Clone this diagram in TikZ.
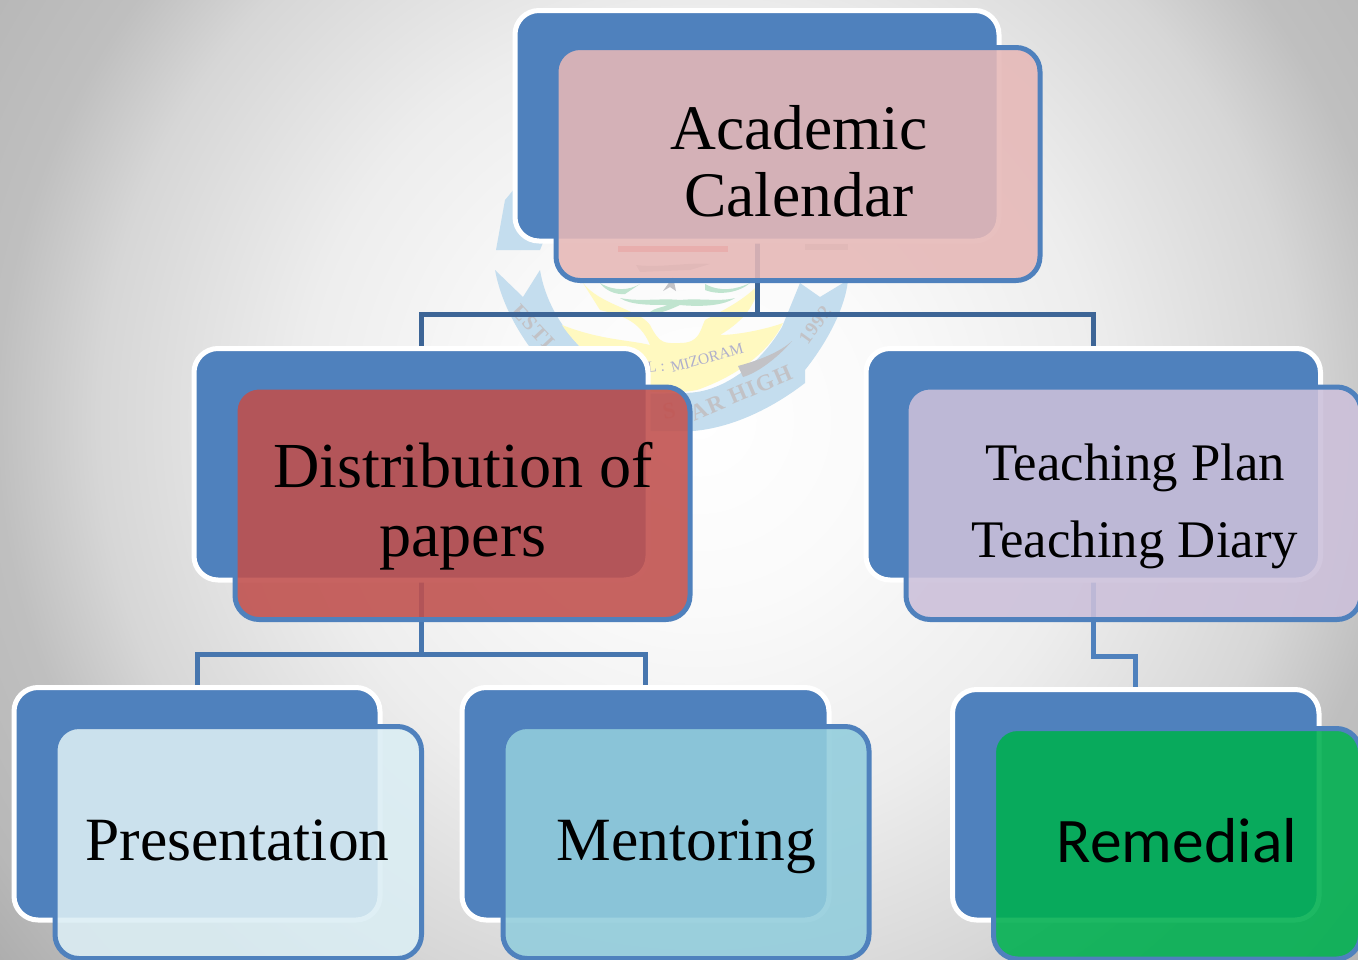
\documentclass[tikz,border=0pt]{standalone}
\usepackage{fontspec}
\setmainfont{Liberation Serif}
\newfontfamily\carlitofont{Carlito}
\newfontfamily\wmfont[LetterSpace=6]{Liberation Serif}
\definecolor{boxblue}{HTML}{4F81BD}
\definecolor{busa}{HTML}{3D6596}
\definecolor{busb}{HTML}{4776AE}
\definecolor{ribbon}{HTML}{C4DDEE}
\definecolor{paleyellow}{HTML}{FFF9C0}
\definecolor{paleleaf}{HTML}{C0E4CF}
\definecolor{markgray}{HTML}{C2C2C6}
\definecolor{fpink}{HTML}{E6B8B7}
\definecolor{fred}{HTML}{C0504D}
\definecolor{flav}{HTML}{CCC0DA}
\definecolor{fice}{HTML}{DBEEF4}
\definecolor{faqua}{HTML}{92CDDC}
\definecolor{fgreen}{HTML}{00B050}
\pgfdeclareradialshading{pagebg}{\pgfpoint{0bp}{0bp}}{%
  color(0bp)=(white);
  color(190bp)=(white!98!black);
  color(400bp)=(white!93!black);
  color(600bp)=(white!84!black);
  color(700bp)=(white!75!black);
  color(820bp)=(white!72!black);
  color(900bp)=(white!67!black);
  color(1000bp)=(white!62!black)}
\pgfdeclarelayer{wmlayer}
\pgfdeclarelayer{connlayer}
\pgfsetlayers{wmlayer,connlayer,main}
\tikzset{
  backbox/.style={draw=white,fill=boxblue,line width=5pt,rounded corners=24pt,inner sep=0pt,outer sep=0pt},
  frontbox/.style={draw=boxblue,line width=5pt,rounded corners=24pt,fill opacity=.885,inner sep=0pt,outer sep=0pt},
  conn/.style={line width=5pt,line join=miter},
  boxlabel/.style={anchor=base,align=center,text=black,inner sep=0pt},
  wmark/.style={inner sep=0pt}
}
\begin{document}
\begin{tikzpicture}[x=1pt,y=-1pt]
\useasboundingbox (0,0) rectangle (1358,959);
\begin{pgfonlayer}{wmlayer}
\node[inner sep=0pt] (pagebackground) at (700,420) {\pgfuseshading{pagebg}};
\fill[ribbon] (495,270) -- (523,297) -- (540,270) .. controls (545,300) and (560,325) .. (580,347)
  -- (620,395) .. controls (645,392) and (675,395) .. (697,392)
  .. controls (725,388) and (760,365) .. (782,327) -- (800,283) -- (820,297) -- (848,280)
  .. controls (845,310) and (825,345) .. (805,370) -- (805,383)
  .. controls (770,410) and (730,428) .. (693,431) -- (640,431) .. controls (590,420) and (510,350) .. cycle;
\fill[ribbon] (496,250) -- (540,250) -- (546,235) -- (530,170) -- (505,200) -- cycle;
\fill[paleyellow] (562,325) .. controls (600,340) and (630,340) .. (650,345)
  .. controls (640,320) and (620,315) .. (600,310) -- (583,283) .. controls (600,305) and (640,310) .. (650,325)
  .. controls (660,345) and (665,343) .. (680,343) .. controls (700,343) and (700,330) .. (705,320)
  .. controls (720,312) and (745,300) .. (760,283) .. controls (755,305) and (745,320) .. (720,335)
  .. controls (740,335) and (770,328) .. (783,323) .. controls (770,350) and (740,375) .. (697,390)
  .. controls (670,395) and (640,392) .. (620,385) .. controls (600,365) and (575,345) .. cycle;
\fill[paleleaf] (620,298) .. controls (640,302) and (660,298) .. (680,300) .. controls (700,298) and (720,302) .. (735,298)
  .. controls (720,308) and (690,306) .. (680,305) .. controls (665,312) and (655,315) .. (650,312)
  .. controls (655,308) and (660,308) .. (668,305) .. controls (650,305) and (630,305) .. cycle;
\fill[paleleaf] (600,283) .. controls (615,292) and (630,290) .. (640,284) -- (625,294) .. controls (615,295) and (605,290) .. cycle;
\fill[paleleaf] (705,284) .. controls (720,292) and (735,290) .. (750,283) .. controls (740,292) and (720,296) .. (705,290) -- cycle;
\fill[markgray] (738,366) .. controls (760,360) and (780,352) .. (792,341) .. controls (780,355) and (760,372) .. (743,377) -- cycle;
\fill[markgray] (663,291) -- (673,277) -- (676,291) -- (670,287) -- cycle;
\fill[markgray] (636,265) .. controls (660,268) and (690,262) .. (710,264) -- (690,270) -- (640,272) -- cycle;
\fill[red!60!white] (618,246) rectangle (728,252);
\fill[markgray] (805,244) rectangle (848,250);
\node[wmark,font=\wmfont\bfseries\fontsize{23}{23}\selectfont,text=markgray,rotate=23] (wmhigh) at (741,393) {AR HIGH};
\node[wmark,font=\wmfont\bfseries\fontsize{23}{23}\selectfont,text=markgray,rotate=10] (wms) at (669,411) {S};
\node[wmark,font=\fontsize{15.5}{16}\selectfont,text=markgray!90!blue,rotate=15.5] (wmcity) at (707,358) {MIZORAM};
\node[wmark,font=\fontsize{15.5}{16}\selectfont,text=markgray!90!blue,rotate=5] (wml) at (656,367) {L :};
\node[wmark,font=\wmfont\bfseries\fontsize{19}{19}\selectfont,text=markgray,rotate=54] (wmyear) at (815,325) {1992};
\node[wmark,font=\wmfont\bfseries\fontsize{21}{21}\selectfont,text=markgray,rotate=-47] (wmest) at (533,327) {ESTI};
\end{pgfonlayer}
% back boxes
\node[backbox,minimum width=484pt,minimum height=230.5pt] (acadB) at (757,125.75) {};
\node[backbox,minimum width=454pt,minimum height=231.5pt] (distB) at (421,464.25) {};
\node[backbox,minimum width=454.5pt,minimum height=231.5pt] (teachB) at (1093.25,464.25) {};
\node[backbox,minimum width=366pt,minimum height=232.5pt] (presB) at (197,803.75) {};
\node[backbox,minimum width=367pt,minimum height=232.5pt] (mentB) at (645.5,803.75) {};
\node[backbox,minimum width=366.5pt,minimum height=230.5pt] (remB) at (1135.75,804.75) {};
% connectors
\coordinate (busA) at (757,314.5);
\coordinate (busB) at (421,654);
\coordinate (busC) at (1093.25,656);
\begin{pgfonlayer}{connlayer}
\draw[conn,busa] (acadB.south) -- (busA);
\draw[conn,busa] (distB.north) |- (busA);
\draw[conn,busa] (teachB.north) |- (busA);
\draw[conn,busb] (distB.south) -- (busB);
\draw[conn,busb] (presB.north) |- (busB);
\draw[conn,busb] (mentB.north) |- (busB);
\draw[conn,boxblue] (teachB.south) -- (busC) -| (remB.north);
\end{pgfonlayer}
% front boxes
\node[frontbox,fill=fpink,minimum width=484pt,minimum height=233pt] (acadF) at (798,164) {};
\node[frontbox,fill=fred,minimum width=455pt,minimum height=232.5pt] (distF) at (462.5,503.25) {};
\node[frontbox,fill=flav,minimum width=455pt,minimum height=232.5pt] (teachF) at (1133.5,503.25) {};
\node[frontbox,fill=fice,minimum width=366.5pt,minimum height=232pt] (presF) at (238.25,842.5) {};
\node[frontbox,fill=faqua,minimum width=366pt,minimum height=232pt] (mentF) at (686,842.5) {};
\node[frontbox,fill=fgreen,minimum width=367pt,minimum height=230.5pt] (remF) at (1177,843.75) {};
% labels
\node[boxlabel,font=\fontsize{63.5}{67}\selectfont] (acadL) at (799,216) {Academic\\Calendar};
\node[boxlabel,font=\fontsize{64.2}{69}\selectfont] (distL) at (463,556) {Distribution of\\papers};
\node[boxlabel,font=\fontsize{52.8}{77}\selectfont] (teachL) at (1135,557) {Teaching Plan\\Teaching Diary};
\node[boxlabel,font=\fontsize{61.5}{61}\selectfont] (presL) at (237.5,860) {Presentation};
\node[boxlabel,font=\fontsize{61.5}{61}\selectfont] (mentL) at (686.5,860) {Mentoring};
\node[boxlabel,font=\carlitofont\fontsize{63.5}{62.5}\selectfont] (remL) at (1177,862) {Remedial};
\end{tikzpicture}
\end{document}
